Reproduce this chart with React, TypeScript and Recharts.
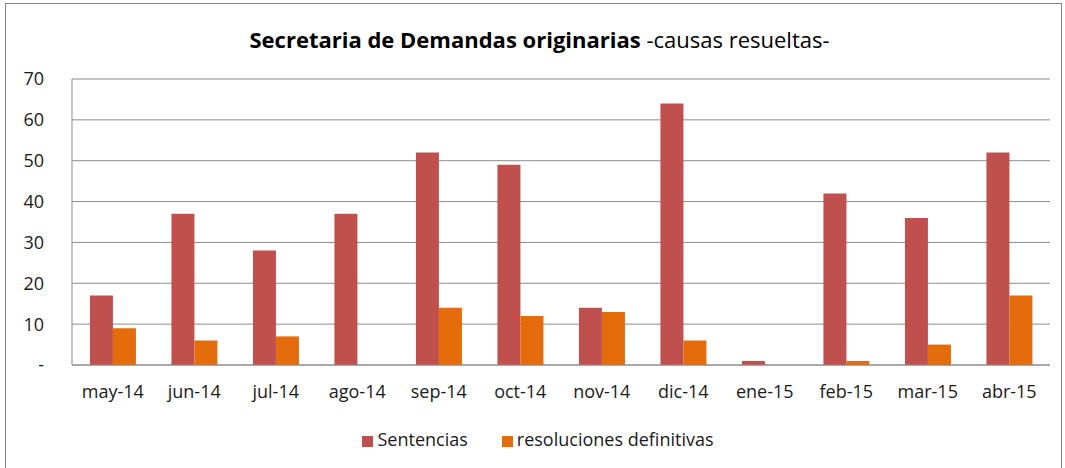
import { Bar, BarChart, CartesianGrid, Legend, XAxis, YAxis } from "recharts";

const months = [
  "may-14", "jun-14", "jul-14", "ago-14", "sep-14", "oct-14",
  "nov-14", "dic-14", "ene-15", "feb-15", "mar-15", "abr-15",
];
const sentencias = [17, 37, 28, 37, 52, 49, 14, 64, 1, 42, 36, 52];
const resoluciones = [9, 6, 7, 0, 14, 12, 13, 6, 0, 1, 5, 17];
const yTicks = [0, 10, 20, 30, 40, 50, 60, 70];

const data = months.map((m, i) => ({
  month: m,
  sentencias: sentencias[i],
  resoluciones: resoluciones[i],
}));

const font = "'Open Sans', 'Noto Sans', sans-serif";

export default function App() {
  return (
    <div
      style={{
        position: "absolute",
        left: 0,
        top: 0,
        width: 1065,
        height: 468,
        background: "#fff",
        fontFamily: font,
        overflow: "hidden",
      }}
    >
      <div
        style={{
          position: "absolute",
          left: 5,
          top: 3,
          width: 1057,
          height: 480,
          border: "1.5px solid #868686",
          boxSizing: "border-box",
        }}
      />
      <div
        style={{
          position: "absolute",
          left: 0,
          width: 1065,
          top: 24,
          textAlign: "center",
          fontSize: 22,
          color: "#000",
          paddingLeft: 14,
          boxSizing: "border-box",
        }}
      >
        <span style={{ fontWeight: 700 }}>Secretaria de Demandas originarias</span>{" "}
        <span>-causas resueltas-</span>
      </div>
      <BarChart
        width={1065}
        height={468}
        data={data}
        margin={{ top: 79, right: 15, left: 0, bottom: 20 }}
        barCategoryGap="22%"
        barGap={0}
      >
        <CartesianGrid vertical={false} stroke="#8c8c8c" strokeWidth={1} />
        <XAxis
          dataKey="month"
          tickLine={false}
          axisLine={{ stroke: "#8c8c8c" }}
          tick={{ fill: "#1a1a1a", fontSize: 18, fontFamily: font }}
          tickMargin={14}
          height={40}
          interval={0}
        />
        <YAxis
          width={72}
          domain={[0, 70]}
          ticks={yTicks}
          tickLine={false}
          axisLine={{ stroke: "#8c8c8c" }}
          tick={{ fill: "#1a1a1a", fontSize: 18, fontFamily: font }}
          tickMargin={22}
          tickFormatter={(v: number) => (v === 0 ? "-" : String(v))}
        />
        <Legend
          verticalAlign="bottom"
          iconType="square"
          iconSize={11}
          height={43}
          wrapperStyle={{
            fontSize: 18,
            fontFamily: font,
            color: "#1a1a1a",
            paddingLeft: 30,
            bottom: -2,
          }}
          formatter={(value) => <span style={{ color: "#1a1a1a", marginRight: 24 }}>{value}</span>}
        />
        <Bar
          dataKey="sentencias"
          name="Sentencias"
          fill="#C0504D"
          isAnimationActive={false}
        />
        <Bar
          dataKey="resoluciones"
          name="resoluciones definitivas"
          fill="#E46C0A"
          isAnimationActive={false}
        />
      </BarChart>
    </div>
  );
}
